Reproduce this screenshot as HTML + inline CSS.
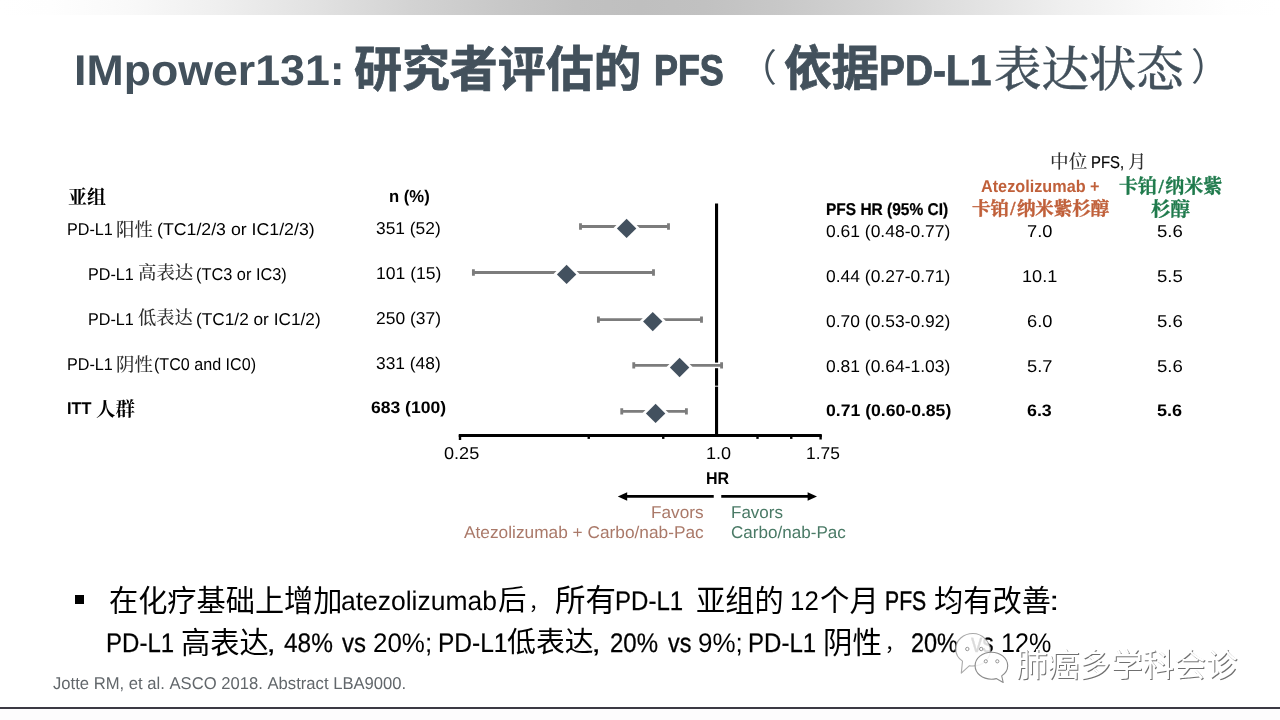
<!DOCTYPE html>
<html lang="zh-CN">
<head>
<meta charset="utf-8">
<title>IMpower131: 研究者评估的 PFS （依据PD-L1表达状态）</title>
<style>
html,body{margin:0;padding:0;background:#fff}
body{width:1280px;height:720px;overflow:hidden;position:relative;font-family:"Liberation Sans",sans-serif}
#slide{position:absolute;left:0;top:0;width:1280px;height:720px;overflow:hidden;will-change:transform}
#topband{position:absolute;left:0;top:0;width:1280px;height:15px;background:linear-gradient(90deg,#fff 0%,#fefefe 4%,#f9f9f9 10%,#efefef 17%,#e1e1e1 25%,#d3d3d3 32%,#c8c8c8 39%,#c1c1c1 45%,#bfbfbf 50%,#c1c1c1 55%,#c8c8c8 61%,#d3d3d3 68%,#e0e0e0 75%,#efefef 83%,#f9f9f9 90%,#fefefe 96%,#fff 100%)}
#botline{position:absolute;left:0;top:706.6px;width:1280px;height:2.2px;background:#3b3a44}
#botband{position:absolute;left:0;top:709px;width:1280px;height:11px;background:#fdfcfd}
.t{position:absolute;white-space:pre;text-rendering:geometricPrecision;line-height:1;font-family:"Liberation Sans",sans-serif;font-kerning:none;transform-origin:0 50%;font-weight:400}
.c{position:absolute;overflow:visible;display:block}
.c text{font-size:1000px}
.sb{font-family:"Liberation Sans","Noto Sans CJK SC",sans-serif;font-weight:700}
.sr{font-family:"Liberation Sans","Noto Sans CJK SC",sans-serif;font-weight:400}
.fm{font-family:"Liberation Serif","Noto Serif CJK SC",serif;font-weight:500}
.fb{font-family:"Liberation Serif","Noto Serif CJK SC",serif;font-weight:700}
.plot{position:absolute;left:0;top:0}
.bullet{position:absolute;left:75.3px;top:595.4px;width:8.5px;height:8.3px;background:#000}
</style>
</head>
<body>
<div id="slide">
<div id="topband"></div>
<svg class="plot" width="1280" height="720" viewBox="0 0 1280 720" aria-hidden="true">
<path d="M716.55 203.5V437" stroke="#000" stroke-width="3.1"/>
<path d="M458.75 435.45H821.75" stroke="#000" stroke-width="2.9"/>
<path d="M460 435V440" stroke="#000" stroke-width="2.4"/>
<path d="M588.75 435V438.9" stroke="#000" stroke-width="2.4"/>
<path d="M663.25 435V438.9" stroke="#000" stroke-width="2.4"/>
<path d="M757.5 435V438.9" stroke="#000" stroke-width="2.4"/>
<path d="M791.25 435V438.9" stroke="#000" stroke-width="2.4"/>
<path d="M820.6 435V439.5" stroke="#000" stroke-width="2.4"/>
<path d="M714 365.4H720" stroke="#fff" stroke-width="5.6"/>
<path d="M580.5 226.5H668.5M580.5 223.3V229.7M668.5 223.3V229.7" stroke="#7c7c7c" stroke-width="2.85" fill="none"/>
<path d="M473.4 272.5H653.5M473.4 269.3V275.7M653.5 269.3V275.7" stroke="#7c7c7c" stroke-width="2.85" fill="none"/>
<path d="M598.4 319.6H701.5M598.4 316.40000000000003V322.8M701.5 316.40000000000003V322.8" stroke="#7c7c7c" stroke-width="2.85" fill="none"/>
<path d="M633.75 365.4H721.6M633.75 362.2V368.59999999999997M721.6 362.2V368.59999999999997" stroke="#7c7c7c" stroke-width="2.85" fill="none"/>
<path d="M621.75 411.4H686.4M621.75 408.2V414.59999999999997M686.4 408.2V414.59999999999997" stroke="#7c7c7c" stroke-width="2.85" fill="none"/>
<path d="M714.5 386.2H719.5" stroke="#fff" stroke-width="0.9"/>
<path d="M616.9 228.4L626.6 218.70000000000002L636.3000000000001 228.4L626.6 238.1Z" fill="#43515f" stroke="#fff" stroke-width="5.4" paint-order="stroke"/>
<path d="M556.9 274.4L566.6 264.7L576.3000000000001 274.4L566.6 284.09999999999997Z" fill="#43515f" stroke="#fff" stroke-width="5.4" paint-order="stroke"/>
<path d="M643.05 321.6L652.75 311.90000000000003L662.45 321.6L652.75 331.3Z" fill="#43515f" stroke="#fff" stroke-width="5.4" paint-order="stroke"/>
<path d="M669.9 367.5L679.6 357.8L689.3000000000001 367.5L679.6 377.2Z" fill="#43515f" stroke="#fff" stroke-width="5.4" paint-order="stroke"/>
<path d="M645.9 413.4L655.6 403.7L665.3000000000001 413.4L655.6 423.09999999999997Z" fill="#43515f" stroke="#fff" stroke-width="5.4" paint-order="stroke"/>
<path d="M713.75 496.4H626" stroke="#000" stroke-width="2.8"/><path d="M617.8 496.5L627.2 492.3V500.7Z" fill="#000"/>
<path d="M721.25 496.4H808.5" stroke="#000" stroke-width="2.8"/><path d="M817 496.5L807.6 492.3V500.7Z" fill="#000"/>
</svg>
<div class="bullet"></div>
<span class="t" style="left:74.01px;top:47px;font-size:43.01px;line-height:48px;color:#43515c;transform:scaleX(1.0394);font-weight:700">IMpower131:</span>
<svg class="c" role="img" aria-label="研究者评估的" style="left:354.25px;top:40.40px" width="287.64" height="57.53" viewBox="0 -950 6000 1200" fill="#43515c" stroke="#43515c" stroke-width="16"><title>研究者评估的</title><text class="sb" x="0" y="0">研究者评估的</text></svg>
<span class="t" style="left:653.60px;top:47px;font-size:43.01px;line-height:48px;color:#43515c;transform:scaleX(0.8345);font-weight:700;-webkit-text-stroke:1.1px #43515c">PFS</span>
<svg class="c" role="img" aria-label="（" style="left:760.60px;top:48.60px" width="14.20" height="37.20" viewBox="0 0 14.20 37.20" fill="#43515c"><title>（</title><text x="16" y="32" text-anchor="end" style="font-size:38px;font-family:'Liberation Sans','Noto Sans CJK SC',sans-serif;font-weight:400">（</text></svg>
<svg class="c" role="img" aria-label="依据" style="left:783.80px;top:40.48px" width="95.26" height="57.15" viewBox="0 -950 2000 1200" fill="#43515c" stroke="#43515c" stroke-width="16"><title>依据</title><text class="sb" x="0" y="0">依据</text></svg>
<span class="t" style="left:879.40px;top:47px;font-size:43.01px;line-height:48px;color:#43515c;transform:scaleX(0.9048);font-weight:700;-webkit-text-stroke:0.8px #43515c">PD-L1</span>
<svg class="c" role="img" aria-label="表达状态" style="left:994.43px;top:40.55px" width="189.73" height="56.92" viewBox="0 -950 4000 1200" fill="#43515c" stroke="#43515c" stroke-width="8"><title>表达状态</title><text class="fm" x="0" y="0">表达状态</text></svg>
<svg class="c" role="img" aria-label="）" style="left:1192.70px;top:48.40px" width="14.20" height="37.60" viewBox="0 0 14.20 37.60" fill="#43515c"><title>）</title><text x="-2" y="32" style="font-size:38px;font-family:'Liberation Sans','Noto Sans CJK SC',sans-serif;font-weight:400">）</text></svg>
<svg class="c" role="img" aria-label="亚组" style="left:68.07px;top:186.12px" width="37.97" height="22.78" viewBox="0 -950 2000 1200" fill="#000"><title>亚组</title><text class="fb" x="0" y="0">亚组</text></svg>
<span class="t" style="left:388.90px;top:187px;font-size:17.08px;line-height:19px;color:#000;transform:scaleX(0.9745);font-weight:700">n (%)</span>
<span class="t" style="left:66.97px;top:220px;font-size:17.08px;line-height:19px;color:#000;transform:scaleX(0.9463)">PD-L1</span>
<svg class="c" role="img" aria-label="阳性" style="left:116.28px;top:217.64px" width="36.86" height="22.12" viewBox="0 -950 2000 1200" fill="#303030"><title>阳性</title><text class="fm" x="0" y="0">阳性</text></svg>
<span class="t" style="left:157.40px;top:220px;font-size:17.08px;line-height:19px;color:#000;transform:scaleX(1.0383)">(TC1/2/3 or IC1/2/3)</span>
<span class="t" style="left:87.87px;top:265px;font-size:17.08px;line-height:19px;color:#000;transform:scaleX(0.9463)">PD-L1</span>
<svg class="c" role="img" aria-label="高表达" style="left:137.81px;top:261.97px" width="55.26" height="22.10" viewBox="0 -950 3000 1200" fill="#303030"><title>高表达</title><text class="fm" x="0" y="0">高表达</text></svg>
<span class="t" style="left:196.49px;top:265px;font-size:17.08px;line-height:19px;color:#000;transform:scaleX(0.9566)">(TC3 or IC3)</span>
<span class="t" style="left:87.87px;top:310px;font-size:17.08px;line-height:19px;color:#000;transform:scaleX(0.9463)">PD-L1</span>
<svg class="c" role="img" aria-label="低表达" style="left:138.28px;top:307.03px" width="54.79" height="21.92" viewBox="0 -950 3000 1200" fill="#303030"><title>低表达</title><text class="fm" x="0" y="0">低表达</text></svg>
<span class="t" style="left:196.43px;top:310px;font-size:17.08px;line-height:19px;color:#000;transform:scaleX(1.0101)">(TC1/2 or IC1/2)</span>
<span class="t" style="left:66.97px;top:355px;font-size:17.08px;line-height:19px;color:#000;transform:scaleX(0.9463)">PD-L1</span>
<svg class="c" role="img" aria-label="阴性" style="left:116.22px;top:352.62px" width="36.92" height="22.15" viewBox="0 -950 2000 1200" fill="#303030"><title>阴性</title><text class="fm" x="0" y="0">阴性</text></svg>
<span class="t" style="left:153.50px;top:355px;font-size:17.08px;line-height:19px;color:#000;transform:scaleX(0.9426)">(TC0 and IC0)</span>
<span class="t" style="left:66.91px;top:399px;font-size:17.08px;line-height:19px;color:#000;transform:scaleX(0.9574);font-weight:700">ITT</span>
<svg class="c" role="img" aria-label="人群" style="left:95.61px;top:396.65px" width="38.97" height="23.38" viewBox="0 -950 2000 1200" fill="#000"><title>人群</title><text class="fb" x="0" y="0">人群</text></svg>
<span class="t" style="left:376.34px;top:219px;font-size:17.08px;line-height:19px;color:#000;transform:scaleX(1.0177)">351 (52)</span>
<span class="t" style="left:375.66px;top:264px;font-size:17.08px;line-height:19px;color:#000;transform:scaleX(1.0285)">101 (15)</span>
<span class="t" style="left:376.12px;top:309px;font-size:17.08px;line-height:19px;color:#000;transform:scaleX(1.0211)">250 (37)</span>
<span class="t" style="left:376.34px;top:354px;font-size:17.08px;line-height:19px;color:#000;transform:scaleX(1.0177)">331 (48)</span>
<span class="t" style="left:371.26px;top:398px;font-size:16.65px;line-height:19px;color:#000;transform:scaleX(1.0525);font-weight:700">683 (100)</span>
<span class="t" style="left:825.56px;top:200px;font-size:17.08px;line-height:19px;color:#000;transform:scaleX(0.9068);font-weight:700;-webkit-text-stroke:0.24px #000">PFS HR (95% CI)</span>
<span class="t" style="left:826.07px;top:222px;font-size:17.08px;line-height:19px;color:#000;transform:scaleX(1.0225)">0.61 (0.48-0.77)</span>
<span class="t" style="left:826.07px;top:267px;font-size:17.08px;line-height:19px;color:#000;transform:scaleX(1.0225)">0.44 (0.27-0.71)</span>
<span class="t" style="left:826.07px;top:312px;font-size:17.08px;line-height:19px;color:#000;transform:scaleX(1.0225)">0.70 (0.53-0.92)</span>
<span class="t" style="left:826.07px;top:357px;font-size:17.08px;line-height:19px;color:#000;transform:scaleX(1.0225)">0.81 (0.64-1.03)</span>
<span class="t" style="left:825.80px;top:401px;font-size:16.65px;line-height:19px;color:#000;transform:scaleX(1.0578);font-weight:700">0.71 (0.60-0.85)</span>
<span class="t" style="left:1026.56px;top:222px;font-size:17.08px;line-height:19px;color:#000;transform:scaleX(1.0698)">7.0</span>
<span class="t" style="left:1021.87px;top:267px;font-size:17.08px;line-height:19px;color:#000;transform:scaleX(1.0608)">10.1</span>
<span class="t" style="left:1026.57px;top:312px;font-size:17.08px;line-height:19px;color:#000;transform:scaleX(1.0694)">6.0</span>
<span class="t" style="left:1026.77px;top:357px;font-size:17.08px;line-height:19px;color:#000;transform:scaleX(1.0698)">5.7</span>
<span class="t" style="left:1027.15px;top:401px;font-size:16.65px;line-height:19px;color:#000;transform:scaleX(1.0714);font-weight:700">6.3</span>
<span class="t" style="left:1156.76px;top:222px;font-size:17.08px;line-height:19px;color:#000;transform:scaleX(1.0870)">5.6</span>
<span class="t" style="left:1156.76px;top:267px;font-size:17.08px;line-height:19px;color:#000;transform:scaleX(1.0854)">5.5</span>
<span class="t" style="left:1156.76px;top:312px;font-size:17.08px;line-height:19px;color:#000;transform:scaleX(1.0870)">5.6</span>
<span class="t" style="left:1156.76px;top:357px;font-size:17.08px;line-height:19px;color:#000;transform:scaleX(1.0870)">5.6</span>
<span class="t" style="left:1157.24px;top:401px;font-size:16.65px;line-height:19px;color:#000;transform:scaleX(1.0848);font-weight:700">5.6</span>
<svg class="c" role="img" aria-label="中位" style="left:1050.11px;top:150.34px" width="37.37" height="22.42" viewBox="0 -950 2000 1200" fill="#303030"><title>中位</title><text class="fm" x="0" y="0">中位</text></svg>
<span class="t" style="left:1091.28px;top:153px;font-size:17.08px;line-height:19px;color:#000;transform:scaleX(0.8707);-webkit-text-stroke:0.2px #000">PFS,</span>
<svg class="c" role="img" aria-label="月" style="left:1127.66px;top:150.68px" width="18.28" height="21.93" viewBox="0 -950 1000 1200" fill="#303030"><title>月</title><text class="fm" x="0" y="0">月</text></svg>
<span class="t" style="left:980.85px;top:177px;font-size:17.08px;line-height:19px;color:#c0603a;transform:scaleX(0.9500);font-weight:700">Atezolizumab +</span>
<svg class="c" role="img" aria-label="卡铂/纳米紫杉醇" style="left:971.95px;top:197.46px" width="137.31" height="22.18" viewBox="0 -950 7430 1200" fill="#c0603a" stroke="#c0603a" stroke-width="22"><title>卡铂/纳米紫杉醇</title><text class="fb" x="0" y="0">卡铂</text><text class="fb" x="2215" y="0" text-anchor="middle">/</text><text class="fb" x="2430" y="0">纳米紫杉醇</text></svg>
<svg class="c" role="img" aria-label="卡铂/纳米紫" style="left:1119.43px;top:175.39px" width="103.33" height="22.84" viewBox="0 -950 5430 1200" fill="#1f7a4c" stroke="#1f7a4c" stroke-width="18"><title>卡铂/纳米紫</title><text class="fb" x="0" y="0">卡铂</text><text class="fb" x="2215" y="0" text-anchor="middle">/</text><text class="fb" x="2430" y="0">纳米紫</text></svg>
<svg class="c" role="img" aria-label="杉醇" style="left:1150.78px;top:196.76px" width="38.99" height="23.39" viewBox="0 -950 2000 1200" fill="#1f7a4c" stroke="#1f7a4c" stroke-width="18"><title>杉醇</title><text class="fb" x="0" y="0">杉醇</text></svg>
<span class="t" style="left:443.79px;top:444px;font-size:17.08px;line-height:19px;color:#000;transform:scaleX(1.0594)">0.25</span>
<span class="t" style="left:706.13px;top:444px;font-size:17.08px;line-height:19px;color:#000;transform:scaleX(1.0562)">1.0</span>
<span class="t" style="left:805.68px;top:444px;font-size:17.08px;line-height:19px;color:#000;transform:scaleX(1.0168)">1.75</span>
<span class="t" style="left:705.93px;top:469px;font-size:17.08px;line-height:19px;color:#000;transform:scaleX(0.9385);font-weight:700">HR</span>
<span class="t" style="left:650.59px;top:503px;font-size:17.08px;line-height:19px;color:#aa7969;transform:scaleX(1.0064)">Favors</span>
<span class="t" style="left:463.72px;top:523px;font-size:17.08px;line-height:19px;color:#aa7969;transform:scaleX(1.0121)">Atezolizumab + Carbo/nab-Pac</span>
<span class="t" style="left:730.60px;top:503px;font-size:17.08px;line-height:19px;color:#4a7a66;transform:scaleX(0.9964)">Favors</span>
<span class="t" style="left:731.13px;top:523px;font-size:17.08px;line-height:19px;color:#4a7a66;transform:scaleX(0.9994)">Carbo/nab-Pac</span>
<svg class="c" role="img" aria-label="在化疗基础上增加" style="left:108.89px;top:582.77px" width="233.65" height="35.05" viewBox="0 -950 8000 1200" fill="#000"><title>在化疗基础上增加</title><text class="sr" x="0" y="0">在化疗基础上增加</text></svg>
<span class="t" style="left:341.38px;top:586px;font-size:26.84px;line-height:30px;color:#000;transform:scaleX(0.9864)">atezolizumab</span>
<svg class="c" role="img" aria-label="后" style="left:497.84px;top:583.13px" width="28.47" height="34.16" viewBox="0 -950 1000 1200" fill="#000"><title>后</title><text class="sr" x="0" y="0">后</text></svg>
<svg class="c" role="img" aria-label="，" style="left:529.34px;top:592.44px" width="18.97" height="22.77" viewBox="0 -950 1000 1200" fill="#000"><title>，</title><text class="sr" x="0" y="0">，</text></svg>
<svg class="c" role="img" aria-label="所有" style="left:555.37px;top:581.96px" width="60.99" height="36.60" viewBox="0 -950 2000 1200" fill="#000"><title>所有</title><text class="sr" x="0" y="0">所有</text></svg>
<span class="t" style="left:615.03px;top:586px;font-size:26.84px;line-height:30px;color:#000;transform:scaleX(0.8957);-webkit-text-stroke:0.25px #000">PD-L1</span>
<svg class="c" role="img" aria-label="亚组的" style="left:695.69px;top:583.04px" width="87.64" height="35.06" viewBox="0 -950 3000 1200" fill="#000"><title>亚组的</title><text class="sr" x="0" y="0">亚组的</text></svg>
<span class="t" style="left:790.03px;top:586px;font-size:26.84px;line-height:30px;color:#000;transform:scaleX(0.9637)">12</span>
<svg class="c" role="img" aria-label="个月" style="left:820.22px;top:582.62px" width="58.79" height="35.27" viewBox="0 -950 2000 1200" fill="#000"><title>个月</title><text class="sr" x="0" y="0">个月</text></svg>
<span class="t" style="left:885.26px;top:586px;font-size:26.84px;line-height:30px;color:#000;transform:scaleX(0.7895);-webkit-text-stroke:0.51px #000">PFS</span>
<svg class="c" role="img" aria-label="均有改善" style="left:933.95px;top:582.94px" width="116.91" height="35.07" viewBox="0 -950 4000 1200" fill="#000"><title>均有改善</title><text class="sr" x="0" y="0">均有改善</text></svg>
<span class="t" style="left:1048.55px;top:586px;font-size:26.84px;line-height:30px;color:#000;transform:scaleX(1.4087)">:</span>
<span class="t" style="left:105.53px;top:628px;font-size:26.84px;line-height:30px;color:#000;transform:scaleX(0.8957);-webkit-text-stroke:0.25px #000">PD-L1</span>
<svg class="c" role="img" aria-label="高表达" style="left:180.77px;top:625.26px" width="87.78" height="35.11" viewBox="0 -950 3000 1200" fill="#000"><title>高表达</title><text class="sr" x="0" y="0">高表达</text></svg>
<span class="t" style="left:266.30px;top:628px;font-size:26.84px;line-height:30px;color:#000;transform:scaleX(1.3666)">,</span>
<span class="t" style="left:284.44px;top:628px;font-size:26.84px;line-height:30px;color:#000;transform:scaleX(0.9109);-webkit-text-stroke:0.22px #000">48%</span>
<span class="t" style="left:342.42px;top:628px;font-size:26.84px;line-height:30px;color:#000;transform:scaleX(0.8922);-webkit-text-stroke:0.26px #000">vs</span>
<span class="t" style="left:373.20px;top:628px;font-size:26.84px;line-height:30px;color:#000;transform:scaleX(0.9666)">20%;</span>
<span class="t" style="left:437.99px;top:628px;font-size:26.84px;line-height:30px;color:#000;transform:scaleX(0.9130);-webkit-text-stroke:0.21px #000">PD-L1</span>
<svg class="c" role="img" aria-label="低表达" style="left:507.36px;top:625.35px" width="86.68" height="34.67" viewBox="0 -950 3000 1200" fill="#000"><title>低表达</title><text class="sr" x="0" y="0">低表达</text></svg>
<span class="t" style="left:591.30px;top:628px;font-size:26.84px;line-height:30px;color:#000;transform:scaleX(1.3666)">,</span>
<span class="t" style="left:609.79px;top:628px;font-size:26.84px;line-height:30px;color:#000;transform:scaleX(0.8947);-webkit-text-stroke:0.25px #000">20%</span>
<span class="t" style="left:667.92px;top:628px;font-size:26.84px;line-height:30px;color:#000;transform:scaleX(0.8728);-webkit-text-stroke:0.31px #000">vs</span>
<span class="t" style="left:697.53px;top:628px;font-size:26.84px;line-height:30px;color:#000;transform:scaleX(0.9688)">9%;</span>
<span class="t" style="left:747.53px;top:628px;font-size:26.84px;line-height:30px;color:#000;transform:scaleX(0.8957);-webkit-text-stroke:0.25px #000">PD-L1</span>
<svg class="c" role="img" aria-label="阴性" style="left:822.52px;top:624.96px" width="58.98" height="35.39" viewBox="0 -950 2000 1200" fill="#000"><title>阴性</title><text class="sr" x="0" y="0">阴性</text></svg>
<svg class="c" role="img" aria-label="，" style="left:884.94px;top:633.44px" width="18.97" height="22.77" viewBox="0 -950 1000 1200" fill="#000"><title>，</title><text class="sr" x="0" y="0">，</text></svg>
<span class="t" style="left:911.32px;top:628px;font-size:26.84px;line-height:30px;color:#000;transform:scaleX(0.8753);-webkit-text-stroke:0.3px #000">20%</span>
<span class="t" style="left:971.17px;top:628px;font-size:26.84px;line-height:30px;color:#000;transform:scaleX(0.8437);-webkit-text-stroke:0.38px #000">vs</span>
<span class="t" style="left:1001.19px;top:628px;font-size:26.84px;line-height:30px;color:#000;transform:scaleX(0.9365)">12%</span>
<span class="t" style="left:52.74px;top:674px;font-size:17.08px;line-height:19px;color:#62676b;transform:scaleX(0.9741)">Jotte RM, et al. ASCO 2018. Abstract LBA9000.</span>
<svg class="c" role="img" aria-label="肺癌多学科会诊" style="left:1016.62px;top:646.82px" width="221.58" height="37.99" viewBox="0 -950 7000 1200" fill="#6f6f6f"><title>肺癌多学科会诊</title><text class="sr" x="0" y="0">肺癌多学科会诊</text></svg>
<svg class="c" role="img" aria-label="肺癌多学科会诊" style="left:1015.52px;top:645.82px" width="221.58" height="37.99" viewBox="0 -950 7000 1200" fill="#fff" aria-hidden="true"><title>肺癌多学科会诊</title><text class="sr" x="0" y="0">肺癌多学科会诊</text></svg>
<svg class="plot" width="1280" height="720" viewBox="0 0 1280 720" aria-hidden="true">
<g fill="#fff" fill-opacity="0.86" stroke="#8c8c8c" stroke-width="1.1" stroke-linejoin="round">
<path d="M973 633.500c-9.600 0-17.300 6.900-17.300 15.400 0 5 2.700 9.400 6.800 12.200l-1.200 12 8.200-7.400c1.100.2 2.300.3 3.500.3 9.600 0 17.300-6.900 17.300-15.400S982.600 633.500 973 633.500Z" stroke-opacity="0.75"/>
<path d="M991.400 652.200c-9 0-16.300 6-16.300 13.500s7.300 13.500 16.300 13.500c1.700 0 3.300-.2 4.800-.6l7 3.900-1.500-6.600c3.700-2.500 6-6.200 6-10.200 0-7.500-7.300-13.500-16.300-13.500Z"/>
</g>
<g fill="#fff" stroke="#8c8c8c" stroke-width="0.9"><circle cx="967.300" cy="649" r="1.700"/><circle cx="981.200" cy="649" r="1.700"/><circle cx="985.800" cy="661.300" r="1.600"/><circle cx="997.300" cy="661.300" r="1.600"/></g>
</svg>
<div id="botline"></div><div id="botband"></div>
</div>
</body>
</html>
